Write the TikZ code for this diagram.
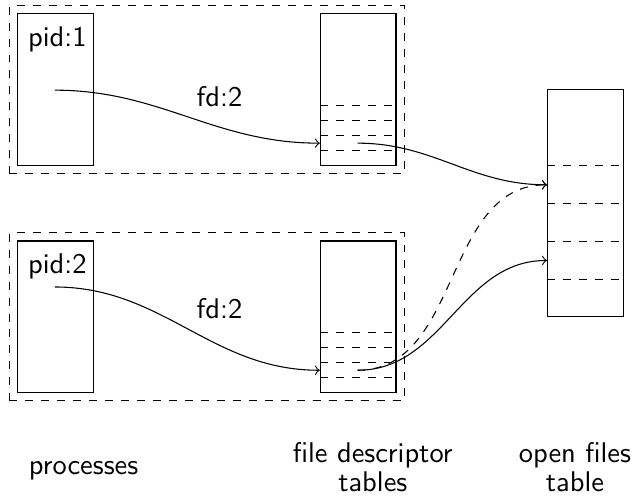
\documentclass[tikz,border=0pt]{standalone}
\usetikzlibrary{fit}

\tikzset{
  tablebox/.style={draw, rectangle, inner sep=0pt, anchor=south west, minimum width=1cm},
  slot/.style={dashed},
  group/.style={draw, dashed, inner sep=0.1cm},
  link/.style={->, out=0, in=180},
  txt/.style={font=\sffamily\fontsize{10.7}{11}\selectfont},
}

\begin{document}
\begin{tikzpicture}
  \useasboundingbox (-0.2246,-1.44) rectangle (8.177,5.191);

  % processes, their descriptor tables and the shared open files table
  \node[tablebox, minimum height=2cm] (p1) at (0,3) {};
  \node[tablebox, minimum height=2cm] (f1) at (4,3) {};
  \node[tablebox, minimum height=2cm] (p2) at (0,0) {};
  \node[tablebox, minimum height=2cm] (f2) at (4,0) {};
  \node[tablebox, minimum height=3cm] (oft) at (7,1) {};

  % slots of the descriptor tables
  \foreach \t in {f1,f2}
    \foreach \y in {0.2,0.4,0.6,0.8}
      \draw[slot] ([yshift=\y cm]\t.south west) -- ([yshift=\y cm]\t.south east);

  % entries of the open files table
  \foreach \y in {0.5,1,1.5,2}
    \draw[slot] ([yshift=\y cm]oft.south west) -- ([yshift=\y cm]oft.south east);

  % one dashed frame per process
  \node[group, fit=(p1)(f1)] (g1) {};
  \node[group, fit=(p2)(f2)] (g2) {};

  % process labels
  \node[txt, inner sep=0pt, anchor=base west] (pid1) at (0.14,4.575) {pid:1};
  \node[txt, inner sep=0pt, anchor=base west] (pid2) at (0.14,1.575) {pid:2};

  % connector end points
  \coordinate (s1) at (0.5,4);
  \coordinate (s2) at (0.5,1.4);
  \coordinate (e1) at (4,3.3);
  \coordinate (e2) at (4,0.3);
  \coordinate (d1) at (4.5,3.3);
  \coordinate (d2) at (4.5,0.3);
  \coordinate (o1) at (7,2.75);
  \coordinate (o2) at (7,1.75);

  \draw[link] (s1) to node[txt, above right] (l1) {fd:2} (e1);
  \draw[link] (s2) to node[txt, above right] (l2) {fd:2} (e2);
  \draw[link] (d1) to (o1);
  \draw[link] (d2) to (o2);
  \draw[link, dashed] (d2) to (o1);

  % column captions (base anchor sits on the last line)
  \node[txt, inner sep=0pt, anchor=base west] (c1) at (0.15,-1.074) {processes};
  \node[txt, inner sep=0pt, anchor=base, align=center] (c2) at (4.70,-1.304) {file descriptor\\tables};
  \node[txt, inner sep=0pt, anchor=base, align=center] (c3) at (7.37,-1.304) {open files\\table};
\end{tikzpicture}
\end{document}
